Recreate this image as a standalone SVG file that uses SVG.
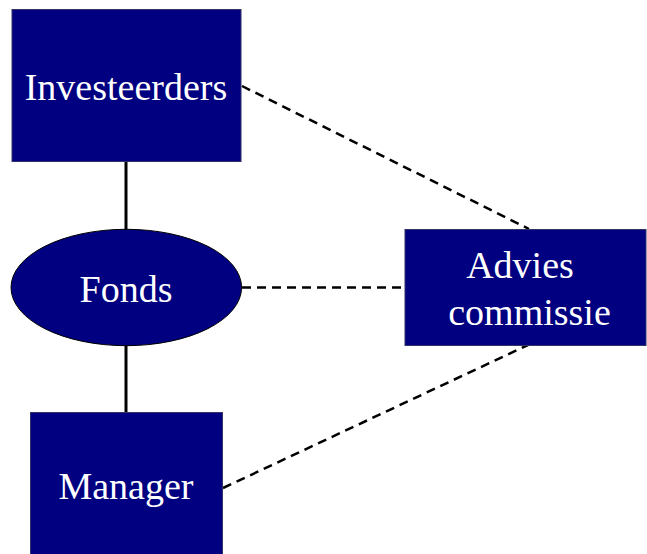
<svg xmlns="http://www.w3.org/2000/svg" width="647" height="554" viewBox="0 0 647 554">
  <style>
    .box { fill: #000080; stroke: #333366; stroke-width: 1; }
    .label { fill: #ffffff; font-family: "Liberation Serif", "Times New Roman", serif; font-size: 38px; text-anchor: middle; }
    .solid { stroke: #000000; stroke-width: 3; fill: none; }
    .dashed { stroke: #000000; stroke-width: 2.5; stroke-dasharray: 9 6; fill: none; }
  </style>
  <rect width="647" height="554" fill="#ffffff"/>
  <g id="connectors">
    <line class="solid" x1="126" y1="161" x2="126" y2="230"/>
    <line class="solid" x1="126" y1="345" x2="126" y2="412"/>
    <line class="dashed" x1="242" y1="86" x2="529" y2="229"/>
    <line class="dashed" x1="242" y1="287.5" x2="405" y2="287.5"/>
    <line class="dashed" x1="223" y1="488" x2="528" y2="345"/>
  </g>
  <g id="investeerders">
    <rect class="box" x="12" y="9.5" width="229" height="152"/>
    <text class="label" x="126" y="100">Investeerders</text>
  </g>
  <g id="fonds">
    <ellipse cx="126.3" cy="287.5" rx="115.3" ry="58.2" fill="#000080" stroke="#000000" stroke-width="1"/>
    <text class="label" x="126" y="302">Fonds</text>
  </g>
  <g id="manager">
    <rect class="box" x="30.5" y="412.5" width="192" height="150"/>
    <text class="label" x="126" y="499">Manager</text>
  </g>
  <g id="advies-commissie">
    <rect class="box" x="405" y="229.5" width="241" height="116"/>
    <text class="label" x="520" y="278">Advies</text>
    <text class="label" x="529.5" y="325">commissie</text>
  </g>
</svg>
